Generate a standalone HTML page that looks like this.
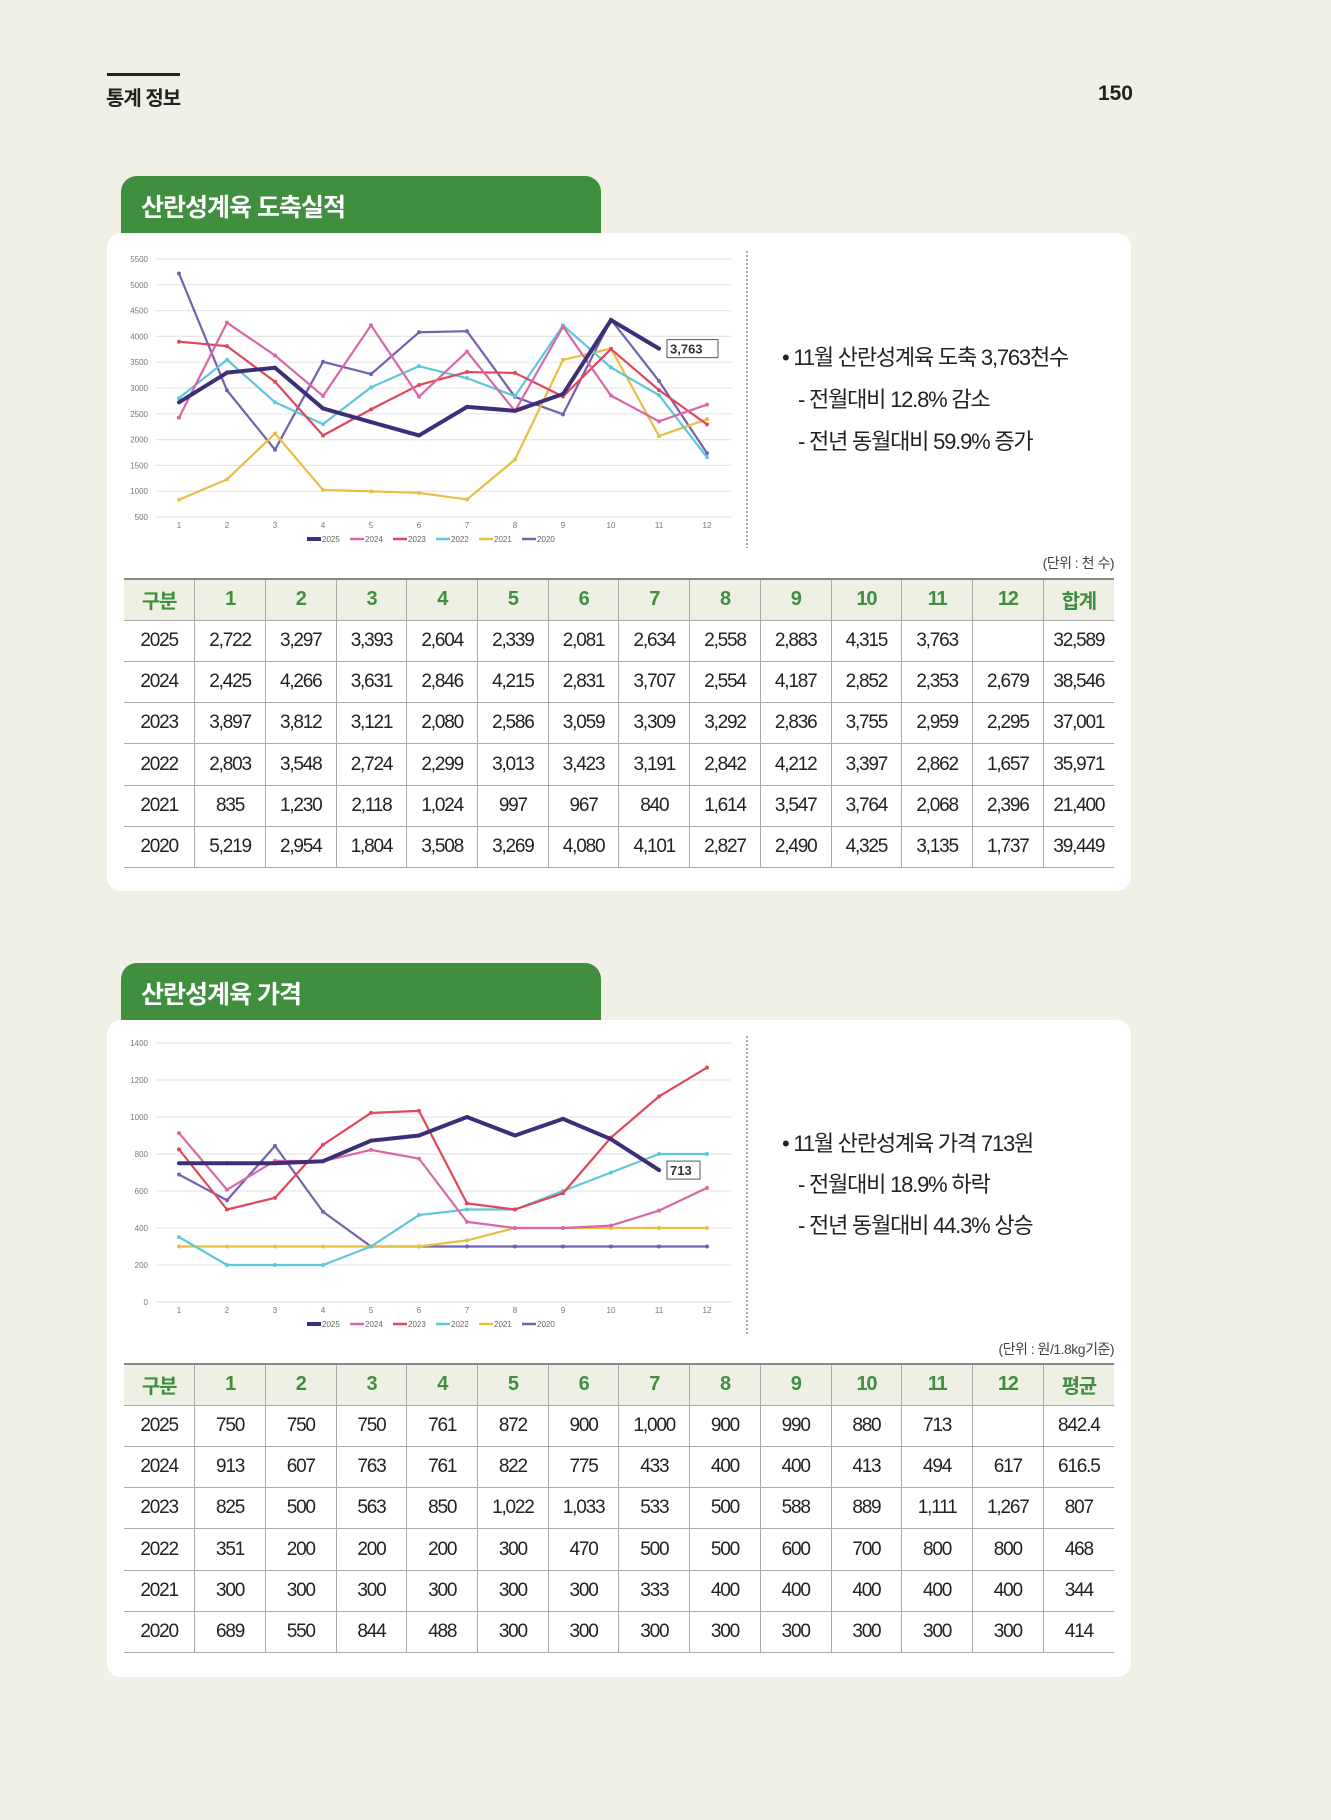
<!DOCTYPE html>
<html><head><meta charset="utf-8">
<style>
body{margin:0;width:1331px;height:1820px;background:#f0f0e6;font-family:"Liberation Sans","Noto Sans CJK KR",sans-serif;position:relative;overflow:hidden}
.abs{position:absolute}
.tab{position:absolute;left:121px;width:480px;height:60px;background:#3f8f3f;border-radius:16px 16px 0 0;color:#fff;font-weight:bold;font-size:25px;box-sizing:border-box;padding:12px 0 0 20px;letter-spacing:-1px}
.card{position:absolute;left:107px;width:1024px;background:#fff;border-radius:14px}
.bul{position:absolute;left:782px;font-size:22px;color:#222;letter-spacing:-1.2px;line-height:1}
.unit{position:absolute;right:217px;font-size:14px;color:#444;letter-spacing:-0.5px}
table{position:absolute;left:124px;width:990px;border-collapse:collapse;table-layout:fixed}
td{border-left:1px solid #aaa;border-bottom:1px solid #aaa;text-align:center;font-size:19px;color:#222;letter-spacing:-1.2px;padding:0}
td:first-child{border-left:none}
tr.h td{background:#eef0e4;color:#3f8f3f;font-weight:bold;border-top:2px solid #888;font-size:20px}
#c1{z-index:5}
</style></head><body>
<div class="abs" style="left:107px;top:73px;width:73px;height:3px;background:#222"></div>
<div class="abs" style="left:106px;top:82px;font-size:20px;font-weight:bold;color:#222;letter-spacing:-1px">통계 정보</div>
<div class="abs" style="right:198px;top:82px;font-size:21px;font-weight:bold;color:#222">150</div>

<div class="tab" style="top:176px">산란성계육 도축실적</div>
<div class="card" style="top:233px;height:658px"></div>

<div class="bul" style="top:347px">• 11월 산란성계육 도축 3,763천수</div>
<div class="bul" style="top:389px;left:798px">- 전월대비 12.8% 감소</div>
<div class="bul" style="top:431px;left:798px">- 전년 동월대비 59.9% 증가</div>
<div class="unit" style="top:553px">(단위 : 천 수)</div>
<table id="t1" style="top:578px"></table>

<div class="tab" style="top:963px">산란성계육 가격</div>
<div class="card" style="top:1020px;height:657px"></div>

<div class="bul" style="top:1133px">• 11월 산란성계육 가격 713원</div>
<div class="bul" style="top:1174px;left:798px">- 전월대비 18.9% 하락</div>
<div class="bul" style="top:1215px;left:798px">- 전년 동월대비 44.3% 상승</div>
<div class="unit" style="top:1339px">(단위 : 원/1.8kg기준)</div>
<table id="t2" style="top:1363px"></table>
<svg id="c1" class="abs" style="left:0;top:0" width="1331" height="1820"></svg>

<script>
var cols=["#3d2e78","#d867a8","#e0475a","#5cc8d8","#e8bf45","#7560b0"];
var yrs=["2025","2024","2023","2022","2021","2020"];
var d1=[[2722,3297,3393,2604,2339,2081,2634,2558,2883,4315,3763],
[2425,4266,3631,2846,4215,2831,3707,2554,4187,2852,2353,2679],
[3897,3812,3121,2080,2586,3059,3309,3292,2836,3755,2959,2295],
[2803,3548,2724,2299,3013,3423,3191,2842,4212,3397,2862,1657],
[835,1230,2118,1024,997,967,840,1614,3547,3764,2068,2396],
[5219,2954,1804,3508,3269,4080,4101,2827,2490,4325,3135,1737]];
var d2=[[750,750,750,761,872,900,1000,900,990,880,713],
[913,607,763,761,822,775,433,400,400,413,494,617],
[825,500,563,850,1022,1033,533,500,588,889,1111,1267],
[351,200,200,200,300,470,500,500,600,700,800,800],
[300,300,300,300,300,300,333,400,400,400,400,400],
[689,550,844,488,300,300,300,300,300,300,300,300]];
var s="";
function chart(data,ymin,ymax,step,top,bot,lab,lblTxt,divTop,divBot,legY,xlY){
 var X=function(i){return 179+i*48};
 var Y=function(v){return bot-(v-ymin)/(ymax-ymin)*(bot-top)};
 for(var v=ymin;v<=ymax;v+=step){var y=Y(v);
  s+='<line x1="156" x2="731" y1="'+y+'" y2="'+y+'" stroke="#e6e6e6" stroke-width="1.2"/>';
  s+='<text x="148" y="'+(y+3)+'" font-size="8" fill="#777" text-anchor="end">'+v+'</text>';}
 for(var i=0;i<12;i++) s+='<text x="'+X(i)+'" y="'+xlY+'" font-size="8" fill="#777" text-anchor="middle">'+(i+1)+'</text>';
 for(var k=5;k>=0;k--){var p=data[k].map(function(v,i){return X(i)+","+Y(v)}).join(" ");
  s+='<polyline points="'+p+'" fill="none" stroke="'+cols[k]+'" stroke-width="'+(k==0?4:2.2)+'" stroke-linejoin="round"/>';
  data[k].forEach(function(v,i){s+='<circle cx="'+X(i)+'" cy="'+Y(v)+'" r="2" fill="'+cols[k]+'"/>'});}
 var lx=X(10)+8,ly=Y(data[0][10]);
 var w=lblTxt.length*9+6;
 s+='<rect x="'+lx+'" y="'+(ly-9)+'" width="'+w+'" height="18" fill="#fff" stroke="#555" stroke-width="1"/>';
 s+='<text x="'+(lx+3)+'" y="'+(ly+5)+'" font-size="13" font-weight="bold" fill="#333">'+lblTxt+'</text>';
 s+='<line x1="747" x2="747" y1="'+divTop+'" y2="'+divBot+'" stroke="#555" stroke-dasharray="2,2" stroke-width="1"/>';
 var lx0=307;
 for(var k=0;k<6;k++){var x=lx0+k*43;
  s+='<line x1="'+x+'" x2="'+(x+14)+'" y1="'+legY+'" y2="'+legY+'" stroke="'+cols[k]+'" stroke-width="'+(k==0?4:2.5)+'"/>';
  s+='<text x="'+(x+15)+'" y="'+(legY+3)+'" font-size="8" fill="#666">'+yrs[k]+'</text>';}
}
chart(d1,500,5500,500,259,517,0,"3,763",251,548,539,528);
chart(d2,0,1400,200,1043,1302,0,"713",1036,1334,1324,1313);
document.getElementById("c1").innerHTML=s;
function tbl(id,data,tot,last){
 var h='<tr class="h" style="height:41px"><td>구분</td>';
 for(var i=1;i<=12;i++)h+='<td>'+i+'</td>';h+='<td>'+last+'</td></tr>';
 for(var k=0;k<6;k++){h+='<tr style="height:41.3px"><td>'+yrs[k]+'</td>';
  for(var i=0;i<12;i++){var v=data[k][i];h+='<td>'+(v===undefined?'':v.toLocaleString('en-US'))+'</td>';}
  h+='<td>'+tot[k]+'</td></tr>';}
 document.getElementById(id).innerHTML=h;
}
tbl("t1",d1,["32,589","38,546","37,001","35,971","21,400","39,449"],"합계");
tbl("t2",d2,["842.4","616.5","807","468","344","414"],"평균");
</script>
</body></html>
